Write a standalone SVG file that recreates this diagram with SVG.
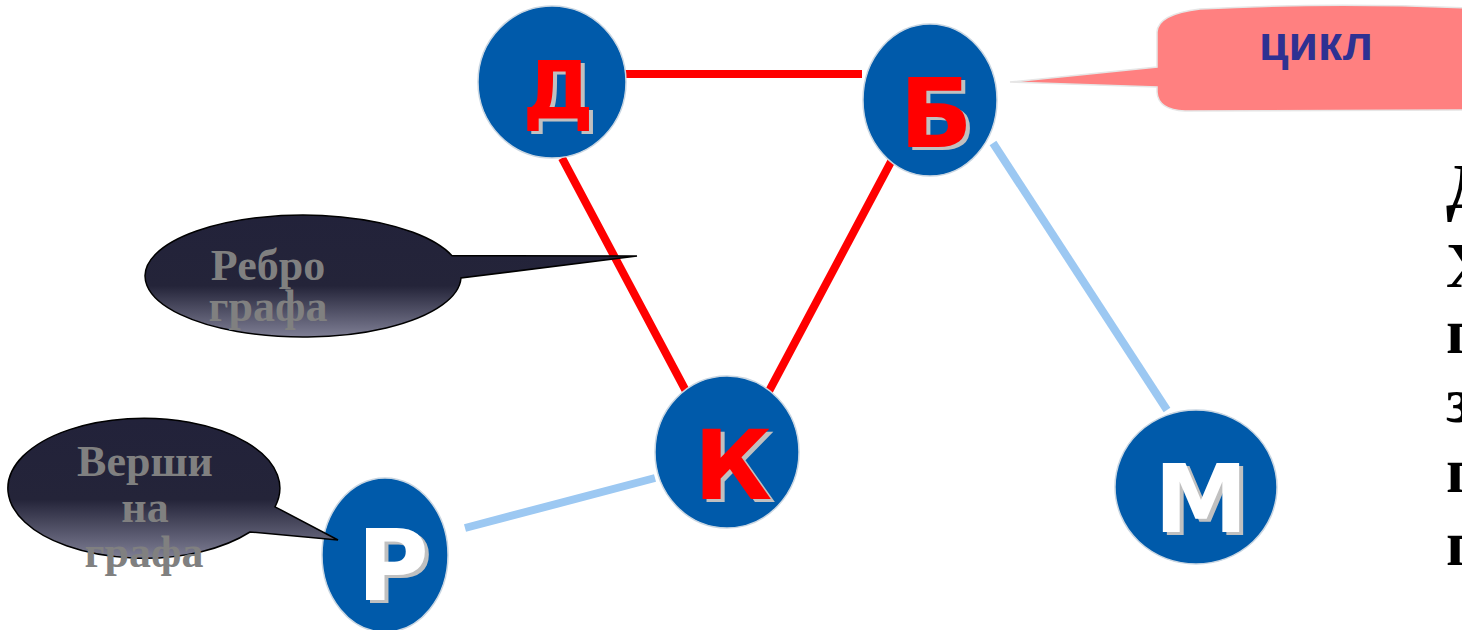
<svg xmlns="http://www.w3.org/2000/svg" width="1462" height="630" viewBox="0 0 1462 630">
<defs>
<linearGradient id="bub" x1="0" y1="0" x2="0" y2="1">
<stop offset="0" stop-color="#22223a"/>
<stop offset="0.58" stop-color="#242439"/>
<stop offset="1" stop-color="#7e7e94"/>
</linearGradient>
</defs>
<style>
.node{fill:#005aaa;stroke:#c9d6e2;stroke-width:1.5}
.let{font-family:"DejaVu Sans",Verdana,sans-serif;font-weight:bold;text-anchor:middle}
.sh{fill:#c0c0c0}
.red{fill:#ff0000}
.wh{fill:#ffffff}
.e-red{stroke:#ff0000;stroke-width:8;fill:none}
.e-blue{stroke:#9cc8f2;stroke-width:8;fill:none}
.bub{fill:url(#bub);stroke:#000;stroke-width:1.5}
.btxt{font-family:"Liberation Serif","Times New Roman",serif;font-weight:bold;font-size:44px;fill:#808080;text-anchor:middle}
.side{font-family:"Liberation Serif","Times New Roman",serif;font-weight:bold;font-size:64px;fill:#000}
</style>
<rect width="1462" height="630" fill="#ffffff"/>
<g id="connectors">
<line class="e-red" x1="623" y1="74" x2="862" y2="74"/>
<line class="e-red" x1="562" y1="158" x2="687" y2="393"/>
<line class="e-red" x1="893" y1="158" x2="768" y2="393"/>
<line class="e-blue" x1="993" y1="143" x2="1167" y2="410"/>
<line class="e-blue" x1="465" y1="528" x2="655" y2="478"/>
</g>
<g id="node-D">
<ellipse class="node" cx="552" cy="82" rx="74" ry="76"/>
<text class="let sh" x="562" y="121" font-size="80">Д</text>
<text class="let red" x="558" y="118" font-size="80">Д</text>
</g>
<g id="node-B">
<ellipse class="node" cx="930" cy="100" rx="67" ry="76"/>
<text class="let sh" x="940" y="150" font-size="96">Б</text>
<text class="let red" x="936" y="147" font-size="96">Б</text>
</g>
<g id="node-K">
<ellipse class="node" cx="727" cy="452" rx="72" ry="76"/>
<text class="let sh" x="737" y="502" font-size="96">К</text>
<text class="let red" x="733" y="499" font-size="96">К</text>
</g>
<g id="node-R">
<ellipse class="node" cx="385" cy="555" rx="63" ry="77"/>
<text class="let sh" x="397" y="603" font-size="98">Р</text>
<text class="let wh" x="393" y="600" font-size="98">Р</text>
</g>
<g id="node-M">
<ellipse class="node" cx="1196" cy="487" rx="81" ry="77"/>
<text class="let sh" x="1205" y="535" font-size="94">М</text>
<text class="let wh" x="1201" y="532" font-size="94">М</text>
</g>
<g id="callout-cycle">
<path d="M1010,82 L1157,67 L1157,32 Q1158,14 1200,9 Q1330,2 1470,8 L1470,110 L1185,111 Q1158,110 1157,92 L1157,87 Z" fill="#ff8080" stroke="#e6e6e6" stroke-width="1.5"/>
<text x="1316" y="60" font-family="'Liberation Sans',Arial,sans-serif" font-weight="bold" font-size="48" fill="#2e3192" text-anchor="middle">цикл</text>
</g>
<g id="callout-edge">
<path class="bub" d="M452,255.7 L637,256 L461,278 A158 61 0 1 1 452,255.7 Z"/>
<text class="btxt" x="268" y="280">Ребро</text>
<text class="btxt" x="268" y="321">графа</text>
</g>
<g id="callout-vertex">
<path class="bub" d="M275,506.8 L338,540 L250,532 A136 70 0 1 1 275,506.8 Z"/>
<text class="btxt" x="145" y="476">Верши</text>
<text class="btxt" x="145" y="522">на</text>
<text class="btxt" x="144" y="567">графа</text>
</g>
<g id="side-text">
<text class="side" x="1446" y="208">Д</text>
<text class="side" x="1446" y="287">Х</text>
<text class="side" x="1446" y="353">п</text>
<text class="side" x="1446" y="422">з</text>
<text class="side" x="1446" y="492">п</text>
<text class="side" x="1446" y="565">п</text>
</g>
</svg>
